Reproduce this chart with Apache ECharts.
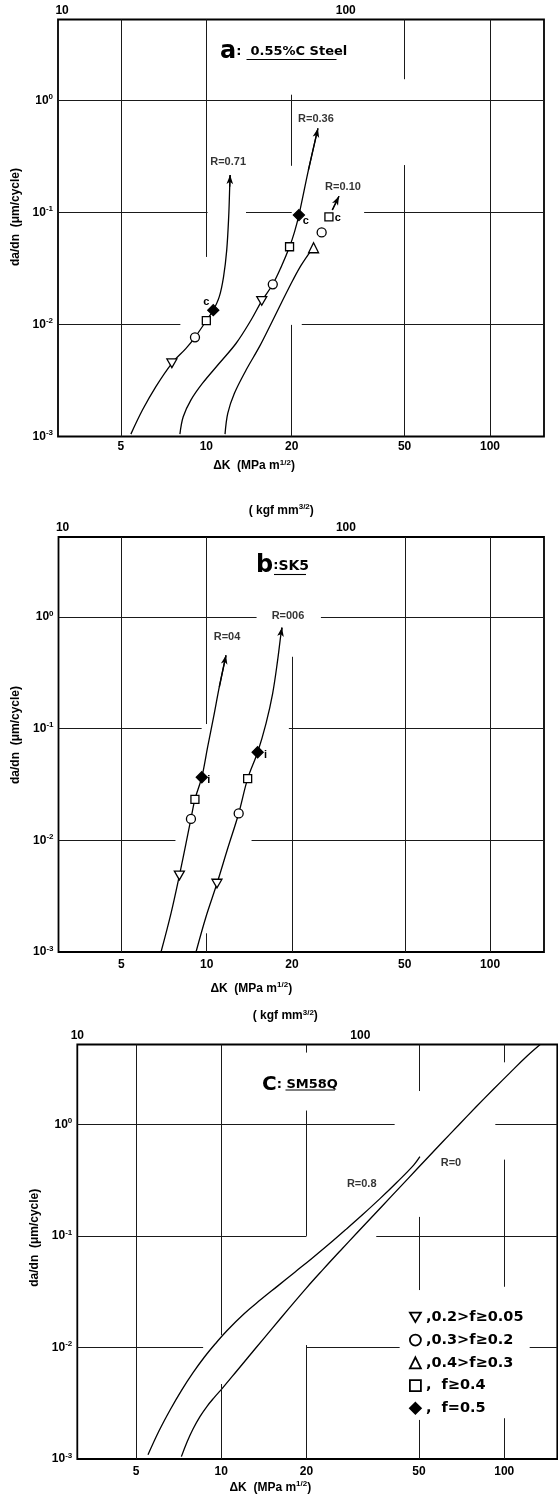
<!DOCTYPE html>
<html><head><meta charset="utf-8">
<script src="https://cdn.jsdelivr.net/npm/echarts@6/dist/echarts.min.js"></script>
<style>html,body{margin:0;padding:0;background:#fff}#c{width:558px;height:1496px}</style>
</head><body><div id="c"></div>
<script>
// ---------- tick labels ----------
const xTicks = [5, 10, 20, 50, 100];          // ΔK, MPa m^1/2
const xTopTicks = [10, 100];                  // kgf mm^-3/2
const yTicks = [0.001, 0.01, 0.1, 1];         // da/dn, µm/cycle
const KGF_PER_MPA = 1 / 0.3101;

// ---------- marker classes (legend) ----------
const markerClasses = ['0.2>f≥0.05', '0.3>f≥0.2', '0.4>f≥0.3', 'f≥0.4', 'f=0.5'];
const legendLabels = [',0.2>f≥0.05', ',0.3>f≥0.2', ',0.4>f≥0.3', ',  f≥0.4', ',  f=0.5'];

// ---------- panel a : 0.55%C Steel ----------
const aCurveR071 = [[5.42,0.00105],[5.96,0.00173],[6.64,0.00279],[7.56,0.0045],[8.48,0.00612],[9.12,0.00767],[10.0,0.0108],[10.58,0.0134],[11.11,0.0177],[11.5,0.0266],[11.8,0.046],[11.99,0.0912],[12.09,0.169],[12.13,0.215]];
const aCurveR036 = [[8.07,0.00105],[8.29,0.0015],[8.83,0.00212],[9.70,0.00299],[11.11,0.0045],[12.74,0.00679],[14.38,0.01094],[15.68,0.0162],[17.15,0.0228],[18.37,0.0327],[19.65,0.0493],[20.46,0.067],[21.2,0.0944],[22.9,0.238],[24.74,0.56]];
const aCurveR010 = [[11.64,0.00105],[11.9,0.00161],[12.56,0.00243],[13.81,0.00392],[15.39,0.00633],[16.93,0.0102],[18.6,0.0165],[20.2,0.0249],[21.6,0.0338],[23.6,0.047]];
const aArrowR010 = [[27.8,0.105],[29.35,0.139]];
const aTriDown = [[7.56,0.0045],[15.68,0.0162]];
const aCircle  = [[9.12,0.00767],[17.15,0.0228],[25.5,0.0662]];
const aTriUp   = [[23.88,0.0483]];
const aSquare  = [[10.0,0.0108],[19.65,0.0493],[27.05,0.0912]];
const aDiamond = [[10.58,0.0134],[21.2,0.0944]];
const aSquareNotes  = ['', '', 'c'];
const aDiamondNotes = ['c', 'c'];
const aGridH = [[1,3,155],[0.1,3,10.1],[0.1,13.8,20],[0.1,36,155],[0.01,3,8.1],[0.01,21.7,155]];
const aGridV = [[5,0.001,5.25],[10,0.04,5.25],[20,0.26,1.12],[20,0.001,0.0099],[50,1.54,5.25],[50,0.001,0.264],[100,0.001,5.25]];

// ---------- panel b : SK5 ----------
const bCurveR04  = [[6.90,0.001],[7.48,0.00221],[8.01,0.00484],[8.45,0.00936],[8.80,0.01555],[9.09,0.0233],[9.61,0.0367],[10.08,0.0686],[10.58,0.1272],[11.08,0.236],[11.7,0.454]];
const bCurveR006 = [[9.17,0.001],[9.94,0.00206],[10.87,0.0041],[11.86,0.00844],[12.97,0.0174],[13.95,0.0357],[15.13,0.0615],[16.19,0.111],[17.09,0.206],[17.8,0.41],[18.29,0.71],[18.44,0.804]];
const bTriDown = [[8.01,0.00484],[10.87,0.0041]];
const bCircle  = [[8.80,0.01555],[12.97,0.0174]];
const bSquare  = [[9.09,0.0233],[13.95,0.0357]];
const bDiamond = [[9.61,0.0367],[15.13,0.0615]];
const bDiamondNotes = ['i', 'i'];
const bGridH = [[1,3,15],[1,25.3,155],[0.1,3,9.6],[0.1,19.5,155],[0.01,3,7.76],[0.01,14.4,155]];
const bGridV = [[5,0.001,5.2],[10,0.11,5.2],[10,0.001,0.00147],[20,0.001,0.44],[50,0.001,5.2],[100,0.001,5.2]];

// ---------- panel c : SM58Q ----------
const cCurveR08 = [[5.51,0.00109],[6.03,0.00179],[6.61,0.00278],[7.24,0.00413],[7.94,0.00592],[8.71,0.00817],[9.55,0.01086],[10.47,0.01413],[12.02,0.01995],[13.8,0.02685],[15.85,0.03565],[18.2,0.0473],[20.9,0.0628],[23.99,0.0841],[27.54,0.114],[31.62,0.1556],[36.31,0.2148],[41.69,0.3013],[47.86,0.4315],[50.35,0.513]];
const cCurveR0  = [[7.23,0.00105],[7.59,0.00144],[7.94,0.00185],[8.41,0.0024],[8.91,0.00297],[9.44,0.00355],[10.0,0.00419],[11.48,0.00638],[13.18,0.00973],[15.14,0.01483],[17.38,0.0225],[19.95,0.0339],[22.91,0.0501],[26.3,0.0733],[30.2,0.1067],[34.67,0.1549],[39.81,0.2249],[45.71,0.3266],[52.48,0.4742],[60.26,0.6871],[69.18,0.9931],[79.43,1.429],[91.2,2.042],[104.7,2.897],[120.2,4.074],[134,5.19]];
const cGridH = [[1,3.1,41],[1,93,154],[0.1,3.1,20],[0.1,35.3,154],[0.01,3.1,8.63],[0.01,20,42.7],[0.01,123,154]];
const cGridV = [[5,0.001,5.2],[10,0.0129,5.2],[10,0.001,0.0047],[20,4.4,5.2],[20,0.1,1.33],[20,0.001,0.0105],[50,1.99,5.2],[50,0.0327,0.148],[50,0.001,0.00224],[100,3.6,5.2],[100,0.035,0.483],[100,0.001,0.00232]];

// ================= layout / style =================
const FONT = 'Liberation Sans';
const panels = [
  {grid:{left:58, top:19.5, width:486, height:417}, xMin:3, xMax:155, yMax:5.25, xLabelMargin:4,
   xNameGap:22, xNameShift:94, yNameGap:29, yNameShift:22, topNameGap:19, topNameShift:40, gridH:aGridH, gridV:aGridV, smooth:0.35},
  {grid:{left:58.5, top:537, width:485.5, height:415}, xMin:3, xMax:155, yMax:5.2, xLabelMargin:7,
   xNameGap:29, xNameShift:100, yNameGap:33, yNameShift:19, topNameGap:19, topNameShift:40, gridH:bGridH, gridV:bGridV, smooth:0.35},
  {grid:{left:77.3, top:1044.5, width:480, height:414.5}, xMin:3.1, xMax:154, yMax:5.2, xLabelMargin:7,
   xNameGap:21, xNameShift:94, yNameGap:35, yNameShift:28, topNameGap:21, topNameShift:64, gridH:cGridH, gridV:cGridV, smooth:0.4}
];

const tok = (size, extra) => Object.assign({fontFamily:FONT, fontWeight:'bold', fontSize:size, color:'#000'}, extra || {});
const supRich = {n: tok(12, {lineHeight:15}), s: tok(8, {lineHeight:8, verticalAlign:'top'})};
const yRich = {b: tok(12, {lineHeight:15}), s: tok(8, {lineHeight:8, verticalAlign:'top'})};

const grids = [], xAxes = [], yAxes = [], series = [];
panels.forEach((p, i) => {
  grids.push(Object.assign({show:true, borderColor:'#000', borderWidth:1.8, backgroundColor:'transparent',
    containLabel:false, outerBoundsMode:'none'}, p.grid));
  const common = {type:'log', logBase:10, gridIndex:i, axisLine:{show:false}, axisTick:{show:false},
    splitLine:{show:false}, minorTick:{show:false}, minorSplitLine:{show:false}};
  xAxes.push(Object.assign({}, common, {position:'bottom', min:p.xMin, max:p.xMax,
    axisLabel:{customValues:xTicks, formatter:v => String(Math.round(v)), margin:p.xLabelMargin, ...tok(12)},
    name:'{n|ΔK  (MPa m}{s|1/2}{n|)}', nameLocation:'middle', nameGap:p.xNameGap,
    nameTextStyle:{rich:supRich, padding:[0,p.xNameShift,0,0]}}));
  xAxes.push(Object.assign({}, common, {position:'top', min:p.xMin*KGF_PER_MPA, max:p.xMax*KGF_PER_MPA,
    axisLabel:{customValues:xTopTicks, formatter:v => String(Math.round(v)), margin:3, ...tok(12)},
    name:'{n|( kgf mm}{s|3/2}{n|)}', nameLocation:'middle', nameGap:p.topNameGap,
    nameTextStyle:{rich:supRich, padding:[0,p.topNameShift,0,0]}}));
  yAxes.push(Object.assign({}, common, {min:0.001, max:p.yMax,
    axisLabel:{customValues:yTicks, margin:5, formatter:v => '{b|10}{s|' + Math.round(Math.log10(v)) + '}', rich:yRich},
    name:'da/dn  (μm/cycle)', nameLocation:'middle', nameGap:p.yNameGap,
    nameTextStyle:{...tok(12), padding:[0,0,0,p.yNameShift]}}));
  // grid lines (broken, as in the original) drawn through the axes' scales
  series.push({type:'line', xAxisIndex:2*i, yAxisIndex:i, data:[[p.xMin,0.001]], symbol:'none',
    lineStyle:{opacity:0}, silent:true, z:1,
    markLine:{silent:true, symbol:['none','none'], label:{show:false}, emphasis:{disabled:true},
      lineStyle:{color:'#1a1a1a', width:1, type:'solid'},
      data:[...p.gridH.map(([y,x1,x2]) => [{coord:[x1,y]},{coord:[x2,y]}]),
            ...p.gridV.map(([x,y1,y2]) => [{coord:[x,y1]},{coord:[x,y2]}])]}});
});

function curve(pts, i, arrow) {
  const s = {type:'line', xAxisIndex:2*i, yAxisIndex:i, data:pts, smooth:panels[i].smooth, symbol:'none', showSymbol:false,
    lineStyle:{color:'#000', width:1.3}, silent:true, z:3};
  if (arrow) s.markLine = {silent:true, symbol:['none','arrow'], symbolSize:[5,9], label:{show:false},
    emphasis:{disabled:true}, lineStyle:{color:'#000', width:1.3, type:'solid'},
    data:[[{coord:pts[pts.length-2]},{coord:pts[pts.length-1]}]]};
  return s;
}
function curveLabel(text, pt, i, offset) {
  return {type:'scatter', xAxisIndex:2*i, yAxisIndex:i, data:[pt], symbolSize:1, silent:true, z:6,
    itemStyle:{color:'rgba(0,0,0,0)'},
    label:{show:true, formatter:text, position:'inside', offset, fontFamily:FONT, fontWeight:'bold', fontSize:11, color:'#000'}};
}
const markerLook = [
  {symbol:'path://M0,0L10,0L5,8.66Z', size:10, fill:'#fff'},
  {symbol:'circle', size:9, fill:'#fff'},
  {symbol:'triangle', size:10, fill:'#fff'},
  {symbol:'rect', size:8, fill:'#fff'},
  {symbol:'diamond', size:11, fill:'#000'}
];
function markers(k, pts, i, notes, offsets) {
  const m = markerLook[k];
  return {type:'scatter', name:markerClasses[k], xAxisIndex:2*i, yAxisIndex:i, symbol:m.symbol, symbolSize:m.size,
    symbolKeepAspect:true, silent:true, z:5,
    itemStyle:{color:m.fill, borderColor:'#000', borderWidth:1.3, opacity:1},
    data:pts.map((p, j) => (notes && notes[j]) ? {value:p, label:{show:true, formatter:notes[j], position:'inside',
      offset:offsets[j], fontFamily:FONT, fontWeight:'bold', fontSize:11, color:'#000'}} : {value:p})};
}
const last = a => a[a.length-1];

// panel a
series.push(curve(aCurveR071, 0, true), curve(aCurveR036, 0, true), curve(aCurveR010, 0, false), curve(aArrowR010, 0, true));
series.push(markers(0, aTriDown, 0), markers(1, aCircle, 0), markers(2, aTriUp, 0),
  markers(3, aSquare, 0, aSquareNotes, [null, null, [9,1]]),
  markers(4, aDiamond, 0, aDiamondNotes, [[-7,-8],[7,6]]));
series.push(curveLabel('R=0.71', last(aCurveR071), 0, [-2,-13]), curveLabel('R=0.36', last(aCurveR036), 0, [-2,-9]),
  curveLabel('R=0.10', last(aArrowR010), 0, [4,-9]));
// panel b
series.push(curve(bCurveR04, 1, true), curve(bCurveR006, 1, true));
series.push(markers(0, bTriDown, 1), markers(1, bCircle, 1), markers(3, bSquare, 1),
  markers(4, bDiamond, 1, bDiamondNotes, [[7,3],[8,3]]));
series.push(curveLabel('R=04', last(bCurveR04), 1, [1,-18]), curveLabel('R=006', last(bCurveR006), 1, [6,-12]));
// panel c (labels anchored to a point of each curve)
series.push(curve(cCurveR08, 2, false), curve(cCurveR0, 2, false));
series.push(curveLabel('R=0.8', cCurveR08[cCurveR08.length-3], 2, [-35,1]),
  curveLabel('R=0', cCurveR0[18], 2, [26,2]));

const titleRich = {
  big: {fontFamily:'DejaVu Sans', fontSize:24, lineHeight:26, color:'#000'},
  bigc:{fontFamily:'DejaVu Sans', fontSize:20, lineHeight:26, color:'#000'},
  col: {fontFamily:'DejaVu Sans', fontSize:13, lineHeight:26, color:'#000'},
  t:   {fontFamily:'DejaVu Sans', fontSize:13, lineHeight:26, color:'#000'},
  t2:  {fontFamily:'DejaVu Sans', fontSize:14, lineHeight:26, color:'#000'}
};
const titles = [
  {text:'{big|a}{col|:}{t|  0.55%C Steel}', left:220, top:39},
  {text:'{big|b}{col|:}{t2|SK5}', left:256, top:553},
  {text:'{bigc|C}{col|:}{t| SM58Q}', left:262, top:1072}
].map(t => Object.assign({padding:0, textStyle:{rich:titleRich}}, t));

const underline = (x1, x2, y) => ({type:'line', silent:true, shape:{x1, y1:y, x2, y2:y}, style:{stroke:'#000', lineWidth:1.1}});

const chart = echarts.init(document.getElementById('c'), null, {renderer:'canvas', width:558, height:1496});
chart.setOption({
  animation:false,
  backgroundColor:'#fff',
  title:titles,
  grid:grids, xAxis:xAxes, yAxis:yAxes, series,
  legend:{data:markerClasses, orient:'vertical', left:409, top:1309.8, padding:0, itemWidth:11, itemHeight:11,
    itemGap:7.75, selectedMode:false, formatter:n => legendLabels[markerClasses.indexOf(n)],
    itemStyle:{borderWidth:1.8},
    textStyle:{fontFamily:'DejaVu Sans', fontWeight:'bold', fontSize:14.5, lineHeight:15, color:'#000'}},
  graphic:[underline(246.5, 336.5, 59.5), underline(274, 306, 574.5), underline(285.5, 335, 1090)]
});
</script></body></html>
